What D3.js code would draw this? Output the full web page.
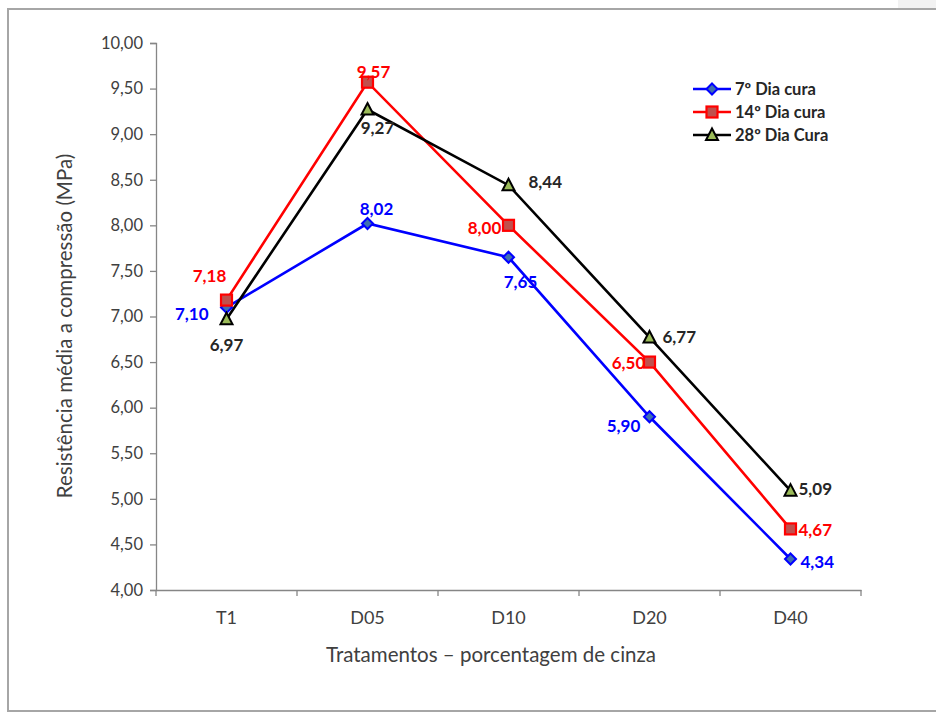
<!DOCTYPE html>
<html><head><meta charset="utf-8">
<script src="https://cdn.jsdelivr.net/npm/d3@7/dist/d3.min.js"></script>
<style>body{margin:0;background:#fff;}svg{display:block;}</style>
</head><body>
<svg id="c" width="936" height="713"></svg>
<script>
const categories = ["T1","D05","D10","D20","D40"];
const dia7 = [7.10, 8.02, 7.65, 5.90, 4.34];
const dia14 = [7.18, 9.57, 8.00, 6.50, 4.67];
const dia28 = [6.97, 9.27, 8.44, 6.77, 5.09];
const seriesNames = ["7º Dia cura","14º Dia cura","28º Dia Cura"];
const yTicks = [4,4.5,5,5.5,6,6.5,7,7.5,8,8.5,9,9.5,10];

const svg = d3.select("#c");
const font = "Lato, 'Open Sans', sans-serif";
// frame
svg.append("rect").attr("x",898).attr("y",0).attr("width",38).attr("height",8).attr("fill","#f2f2f2");
svg.append("rect").attr("x",8).attr("y",9).attr("width",940).attr("height",702)
  .attr("fill","none").attr("stroke","#a6a6a6").attr("stroke-width",2);

const x = d3.scaleBand().domain(categories).range([156,861]);
const y = d3.scaleLinear().domain([4,10]).range([590,43]);
const cx = c => x(c) + x.bandwidth()/2;

// y axis
const ya = svg.append("g").attr("transform","translate(156,0)")
  .call(d3.axisLeft(y).tickValues(yTicks).tickSize(6).tickPadding(7)
    .tickFormat(d => d3.format(".2f")(d).replace(".",",")));
ya.select(".domain").attr("stroke","#868686").attr("stroke-width",1.3);
ya.selectAll(".tick line").attr("stroke","#868686").attr("stroke-width",1.3);
ya.selectAll("text").attr("fill","#404040").attr("font-family",font).attr("font-size",16.5);

// x axis
const xa = svg.append("g").attr("transform","translate(0,590)")
  .call(d3.axisBottom(x).tickSize(0).tickPadding(21));
xa.select(".domain").attr("stroke","#868686").attr("stroke-width",1.3);
xa.selectAll("text").attr("fill","#404040").attr("font-family",font).attr("font-size",18);
const bounds = categories.map(c => x(c)).concat([x(categories[categories.length-1]) + x.bandwidth()]);
xa.selectAll(".sep").data(bounds).enter().append("line").attr("class","sep")
  .attr("x1",d=>d).attr("x2",d=>d).attr("y1",0).attr("y2",6)
  .attr("stroke","#868686").attr("stroke-width",1.3);

// titles
svg.append("text").attr("transform","translate(72,326) rotate(-90)").attr("text-anchor","middle")
  .attr("font-family",font).attr("font-size",20.5).attr("fill","#404040")
  .text("Resistência média a compressão (MPa)");
svg.append("text").attr("x",491).attr("y",662).attr("text-anchor","middle")
  .attr("font-family",font).attr("font-size",20.5).attr("fill","#404040")
  .text("Tratamentos – porcentagem de cinza");

const series = [
  {name:seriesNames[0], vals:dia7, color:"#0000ff", fill:"#3f6fb0", shape:"diamond"},
  {name:seriesNames[1], vals:dia14, color:"#ff0000", fill:"#c0504d", shape:"square"},
  {name:seriesNames[2], vals:dia28, color:"#000000", fill:"#9bbb59", shape:"triangle"}
];
function marker(g, s, px, py){
  if(s.shape==="diamond"){
    g.append("path").attr("d",`M${px},${py-5.5}L${px+5.5},${py}L${px},${py+5.5}L${px-5.5},${py}Z`)
      .attr("fill",s.fill).attr("stroke",s.color).attr("stroke-width",2);
  } else if(s.shape==="square"){
    g.append("rect").attr("x",px-5.5).attr("y",py-5.5).attr("width",11).attr("height",11)
      .attr("fill",s.fill).attr("stroke",s.color).attr("stroke-width",2.2);
  } else {
    g.append("path").attr("d",`M${px},${py-6.5}L${px+6},${py+5}L${px-6},${py+5}Z`)
      .attr("fill",s.fill).attr("stroke",s.color).attr("stroke-width",2);
  }
}
const line = d3.line().x((d,i)=>cx(categories[i])).y(d=>y(d));
[0,1,2].forEach(k=>{
  const s = series[k];
  svg.append("path").datum(s.vals).attr("d",line).attr("fill","none")
    .attr("stroke",s.color).attr("stroke-width",2.6);
});
[0,1,2].forEach(k=>{
  const s = series[k];
  const g = svg.append("g");
  s.vals.forEach((v,i)=>marker(g,s,cx(categories[i]),y(v)));
});

// data labels: [dx, dy, anchor] per series per point
const offs = [
  [[-18,13,"end"],[9,-9,"middle"],[12,31,"middle"],[-26,15,"middle"],[10,9,"start"]],
  [[-17,-18,"middle"],[6,-4,"middle"],[-24,9,"middle"],[-21,7,"middle"],[8,7,"start"]],
  [[0,32,"middle"],[10,24,"middle"],[20,3,"start"],[13,6,"start"],[8,4,"start"]]
];
const fmt = v => d3.format(".2f")(v).replace(".",",");
series.forEach((s,k)=>{
  s.vals.forEach((v,i)=>{
    const o = offs[k][i];
    svg.append("text").attr("x",cx(categories[i])+o[0]).attr("y",y(v)+o[1])
      .attr("text-anchor",o[2]).attr("font-family",font).attr("font-weight","bold")
      .attr("font-size",17).attr("fill",k===2?"#262626":s.color).text(fmt(v));
  });
});

// legend
const lg = svg.append("g").attr("transform","translate(693,89)");
series.forEach((s,k)=>{
  const gy = k*23;
  lg.append("line").attr("x1",0).attr("x2",38).attr("y1",gy).attr("y2",gy)
    .attr("stroke",s.color).attr("stroke-width",2.6);
  marker(lg,s,19,gy);
  lg.append("text").attr("x",42).attr("y",gy+6).attr("font-family",font).attr("font-weight","bold")
    .attr("font-size",16.5).attr("fill","#262626").text(s.name);
});
</script>
</body></html>
